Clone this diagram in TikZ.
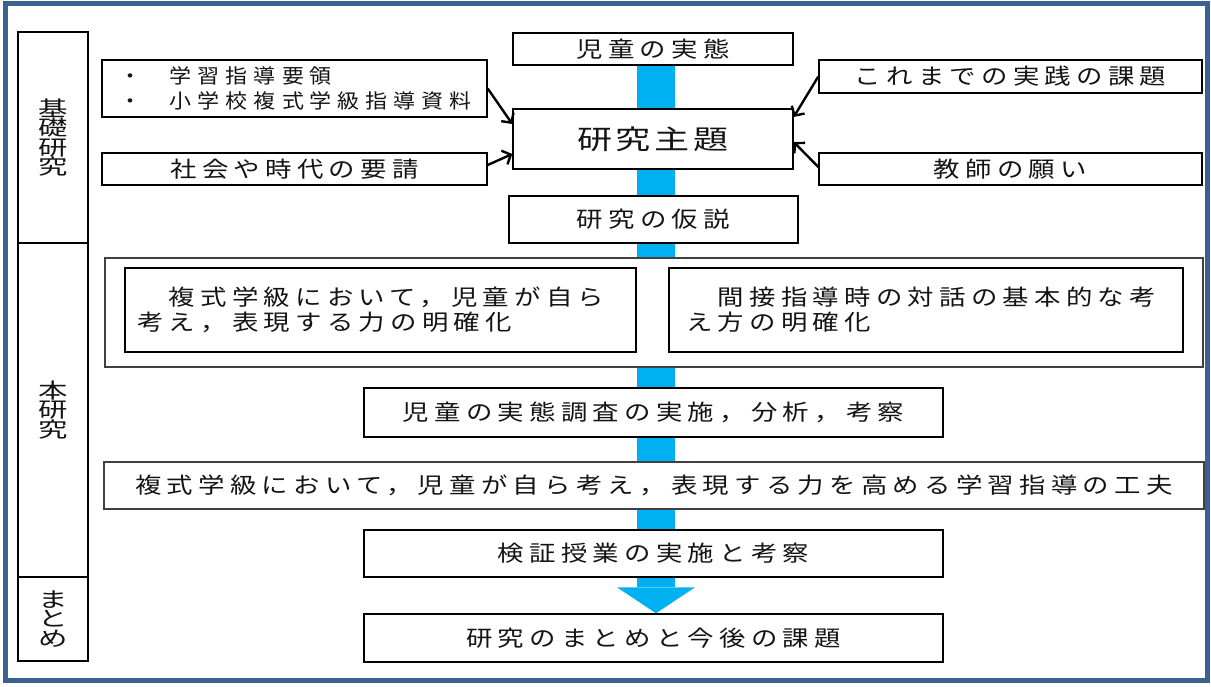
\documentclass[tikz,border=0pt]{standalone}
\usepackage{fontspec}
\newfontfamily\jpmain[FakeStretch=1.2,LetterSpace=24]{Noto Sans CJK JP}
\newfontfamily\jpbig[FakeStretch=1.3,LetterSpace=14]{Noto Sans CJK JP}
\newfontfamily\jpside[FakeStretch=1.4]{Noto Sans CJK JP}
\newfontfamily\jplist[FakeStretch=1.1,LetterSpace=30]{Noto Sans CJK JP}
\usetikzlibrary{arrows.meta,calc,backgrounds}
\definecolor{framecol}{HTML}{3B6190}
\definecolor{barblue}{HTML}{00B0F0}
\definecolor{txt}{HTML}{141414}
\begin{document}
\begin{tikzpicture}[x=1pt,y=-1pt,
  box/.style={draw=black,line width=1.4pt,fill=white,rectangle,inner sep=0pt,
    text=txt,font=\jpmain\fontsize{22pt}{25pt}\selectfont},
  greybox/.style={box,draw=black!75},
  thickbox/.style={box,line width=2.4pt},
  sidebox/.style={box,minimum width=70pt,align=center,
    font=\jpside\fontsize{21pt}{19.5pt}\selectfont},
  conn/.style={line width=2.4pt,-{Straight Barb[length=7pt,width=15pt]}}]
\useasboundingbox (0,0) rectangle (1211,686);

% left column
\node[sidebox,minimum height=211pt] (kiso) at (53,137.5) {基\\礎\\研\\究};
\node[sidebox,minimum height=334pt] (hon) at (53,410) {本\\研\\究};
\node[sidebox,minimum height=84pt] (matomeL) at (53,619) {ま\\と\\め};

% top boxes
\node[box,minimum width=280pt,minimum height=32pt] (jittai) at (653,49) {児童の実態};
\node[box,minimum width=280pt,minimum height=60pt,
  font=\jpbig\fontsize{27pt}{30pt}\selectfont] (shudai) at (653,139) {研究主題};
\node[box,minimum width=385pt,minimum height=57pt,align=left,text width=351pt,
  inner xsep=17pt,font=\jplist\fontsize{20pt}{25pt}\selectfont] (youryou) at (294.5,88.5)
  {\makebox[51pt][l]{・}学習指導要領\\\makebox[51pt][l]{・}小学校複式学級指導資料};
\node[box,minimum width=385pt,minimum height=32pt] (shakai) at (294.5,169) {社会や時代の要請};
\node[box,minimum width=383pt,minimum height=33pt] (kadai) at (1010.5,76.5) {これまでの実践の課題};
\node[box,minimum width=383pt,minimum height=32pt] (negai) at (1010.5,169) {教師の願い};
\node[box,minimum width=289pt,minimum height=47pt] (kasetsu) at (653.5,219.5) {研究の仮説};

% container
\node[greybox,minimum width=1098pt,minimum height=109pt] (cont) at (654,312.5) {};
\node[thickbox,minimum height=84pt,text width=487pt,inner xsep=12pt,align=left] (inL) at (380.5,310)
  {　複式学級において，児童が自ら\\考え，表現する力の明確化};
\node[thickbox,minimum height=84pt,text width=480pt,inner xsep=17pt,align=left] (inR) at (926,310)
  {　間接指導時の対話の基本的な考\\え方の明確化};

\node[box,minimum width=579pt,minimum height=49pt] (chousa) at (653.5,412.5) {児童の実態調査の実施，分析，考察};
\node[greybox,minimum width=1100pt,minimum height=47pt] (kufu) at (654,485.5) {複式学級において，児童が自ら考え，表現する力を高める学習指導の工夫};
\node[box,minimum width=579pt,minimum height=47pt] (kensho) at (653.5,553.5) {検証授業の実施と考察};
\node[box,minimum width=579pt,minimum height=48pt] (matome) at (653.5,638) {研究のまとめと今後の課題};

% background: page, frame, blue flow bar
\begin{scope}[on background layer]
\fill[white] (0,0) rectangle (1211,686);
\draw[framecol,line width=5pt] (5.5,3.5) rectangle (1207.5,680);
\coordinate (tip) at ([xshift=2.5pt]matome.north);
\fill[barblue] ([xshift=-16.5pt]jittai.south) rectangle ([xshift=21.5pt,yshift=26pt]matome.north);
\fill[barblue] ([xshift=-36.5pt,yshift=26pt]matome.north)
  -- ([xshift=41.5pt,yshift=26pt]matome.north) -- (tip) -- cycle;
\end{scope}

% arrows into the theme
\draw[conn] (youryou.east) -- ([yshift=15pt]shudai.west);
\draw[conn] ([yshift=4pt]shakai.east) -- ([yshift=-15pt]shudai.west);
\draw[conn] (kadai.west) -- ([yshift=22pt]shudai.east);
\draw[conn] ([yshift=2pt]negai.west) -- ([yshift=-3pt]shudai.east);
\end{tikzpicture}
\end{document}
